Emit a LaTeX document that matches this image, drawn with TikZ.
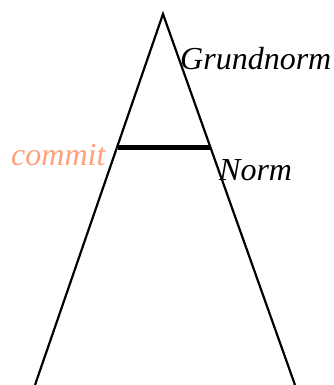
\documentclass[tikz,border=0pt]{standalone}
\usepackage{fontspec}
\setmainfont{Liberation Serif}
\definecolor{commitcol}{RGB}{255,160,122}
\begin{document}
\begin{tikzpicture}[x=1pt,y=-1pt,
  lbl/.style={inner sep=0pt,anchor=base west,font=\fontsize{32}{32}\selectfont\itshape},
  edge/.style={line width=2.2pt,line join=miter},
  level/.style={line width=5pt}]
\useasboundingbox (0,0) rectangle (334,385);
\coordinate (apex) at (163,14);
\coordinate (bl) at (35,385);
\coordinate (br) at (295,385);
\coordinate (ll) at (117.5,147);
\coordinate (lr) at (209.5,147);
\draw[edge] (bl) -- (apex) -- (br);
\draw[level] (ll) -- (lr);
\node[lbl] (grund) at (180,70) {Grundnorm};
\node[lbl] (norm) at (219,180) {Norm};
\node[lbl,text=commitcol] (commit) at (11,165) {commit};
\end{tikzpicture}
\end{document}
